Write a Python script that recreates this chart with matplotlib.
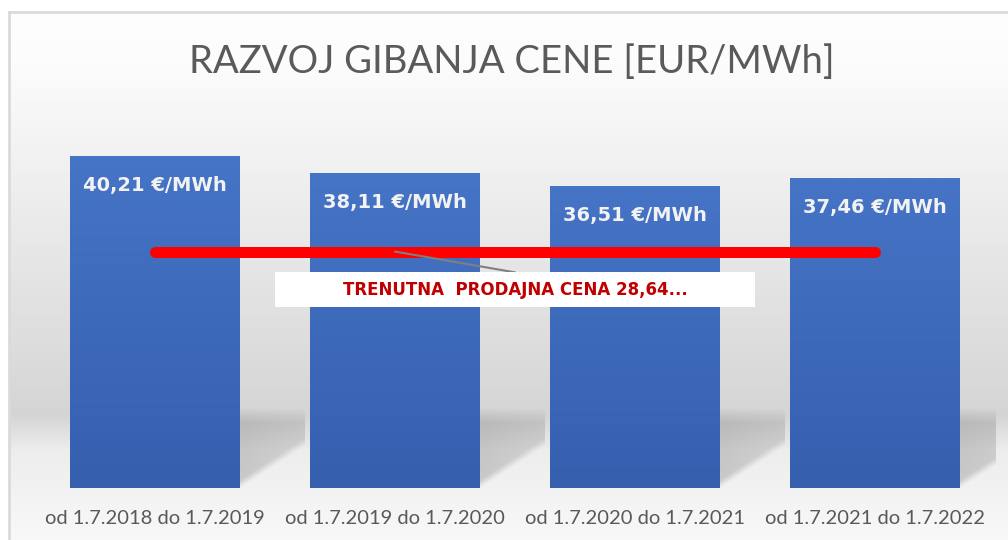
import numpy as np
import matplotlib
matplotlib.use('Agg')
import matplotlib.pyplot as plt
from matplotlib.patches import Rectangle

# ---- data ----
title = "RAZVOJ GIBANJA CENE [EUR/MWh]"
periods = ["od 1.7.2018 do 1.7.2019", "od 1.7.2019 do 1.7.2020",
           "od 1.7.2020 do 1.7.2021", "od 1.7.2021 do 1.7.2022"]
prices = [40.21, 38.11, 36.51, 37.46]
price_labels = ["40,21 €/MWh", "38,11 €/MWh", "36,51 €/MWh", "37,46 €/MWh"]
current_price = 28.64
current_label = "TRENUTNA  PRODAJNA CENA 28,64..."

W, H, DPI = 1008, 540, 100
fig = plt.figure(figsize=(W / DPI, H / DPI), dpi=DPI)
fig.patch.set_facecolor('white')

# ---- background (chart area gradient) ----
bg = fig.add_axes([0, 0, 1, 1], zorder=0)
bg.set_xlim(0, W)
bg.set_ylim(H, 0)
bg.axis('off')
rows = np.arange(12, H)
vals = np.interp(rows, [12, 60, 415, 450, 540], [0.995, 0.99, 0.835, 0.93, 0.975])
col = np.repeat(vals[:, None], 2, axis=1)
bg.imshow(np.dstack([col] * 3), extent=(9, W, H, 12), aspect='auto',
          interpolation='bilinear')
bg.plot([9, 9], [12, H], color='#dadada', lw=2)
bg.plot([9, W], [12, 12], color='#dadada', lw=2)

fig.text(0.508, 1 - 62 / H, title, ha='center', va='center', fontsize=27.5,
         color='#5a5a5a', family='Lato', fontweight='normal')

# ---- main axes ----
ax = fig.add_axes([35 / W, (H - 488) / H, 960 / W, 388 / H], zorder=1)
ax.set_facecolor('none')
x = np.arange(len(prices))
for s in ax.spines.values():
    s.set_visible(False)
ax.set_yticks([])
ax.set_xticks(x)
ax.set_xticklabels(periods, family='Lato', fontsize=14.5, color='#595959')
ax.tick_params(axis='x', length=0, pad=16)

bar_w = 0.708
bars = ax.bar(x, prices, width=bar_w, color='#3f6bbd', zorder=3)

# soft shadows behind bars
for b in bars:
    right = b.get_x() + b.get_width()
    sw = 0.27
    top = 9.6
    ny, nx = 120, 40
    yy = np.linspace(top, 0, ny)[:, None]
    uu = np.linspace(0, 1, nx)[None, :]
    alpha = np.clip((top - yy) / 1.8, 0, 1) * 0.32
    alpha = alpha * np.clip((yy - 5.0 * uu) / 1.0, 0, 1)
    alpha = alpha * (1 - 0.3 * uu)
    rgba = np.zeros((ny, nx, 4))
    rgba[..., :3] = 0.45
    rgba[..., 3] = alpha
    ax.imshow(rgba, extent=(right, right + sw, 0, top), aspect='auto',
              interpolation='bilinear', zorder=2)

# bar gradients
grad = np.linspace(0, 1, 100)[:, None]
top_c = np.array([0x46, 0x74, 0xC6]) / 255
bot_c = np.array([0x36, 0x5F, 0xAE]) / 255
gimg = top_c[None, None, :] * (1 - grad[..., None]) + bot_c[None, None, :] * grad[..., None]
gimg = np.repeat(gimg, 2, axis=1)
for b in bars:
    ax.imshow(gimg, extent=(b.get_x(), b.get_x() + b.get_width(), 0, b.get_height()),
              aspect='auto', interpolation='bilinear', zorder=3.5)
ax.set_xlim(-0.5, len(prices) - 0.5)
ax.set_ylim(0, 47)

for i, (v, lbl) in enumerate(zip(prices, price_labels)):
    ax.annotate(lbl, (x[i], v), xytext=(0, -29 * 72 / DPI), textcoords='offset points',
                ha='center', va='center', color='#f2f2f2', fontsize=14,
                fontweight='bold', family='DejaVu Sans', zorder=4)

# current price line
ax.plot([x[0], x[-1]], [current_price, current_price], color='#ff0000',
        lw=11 * 72 / DPI, solid_capstyle='round', zorder=5)

# callout
lx, ly = 1.5, 24.0
bw, bh = 2.0, 4.24
ax.annotate('', xy=(x[1], current_price), xytext=(lx, ly + bh / 2),
            arrowprops=dict(arrowstyle='-', color='#7f7f7f', lw=1.5,
                            shrinkA=0, shrinkB=0), zorder=6)
ax.add_patch(Rectangle((lx - bw / 2, ly - bh / 2), bw, bh, facecolor='white',
                       edgecolor='none', zorder=6.5))
ax.text(lx, ly, current_label, ha='center', va='center', color='#c00000',
        fontsize=12, fontweight='bold', family='DejaVu Sans', zorder=7)

fig.savefig('out.png', dpi=DPI)
